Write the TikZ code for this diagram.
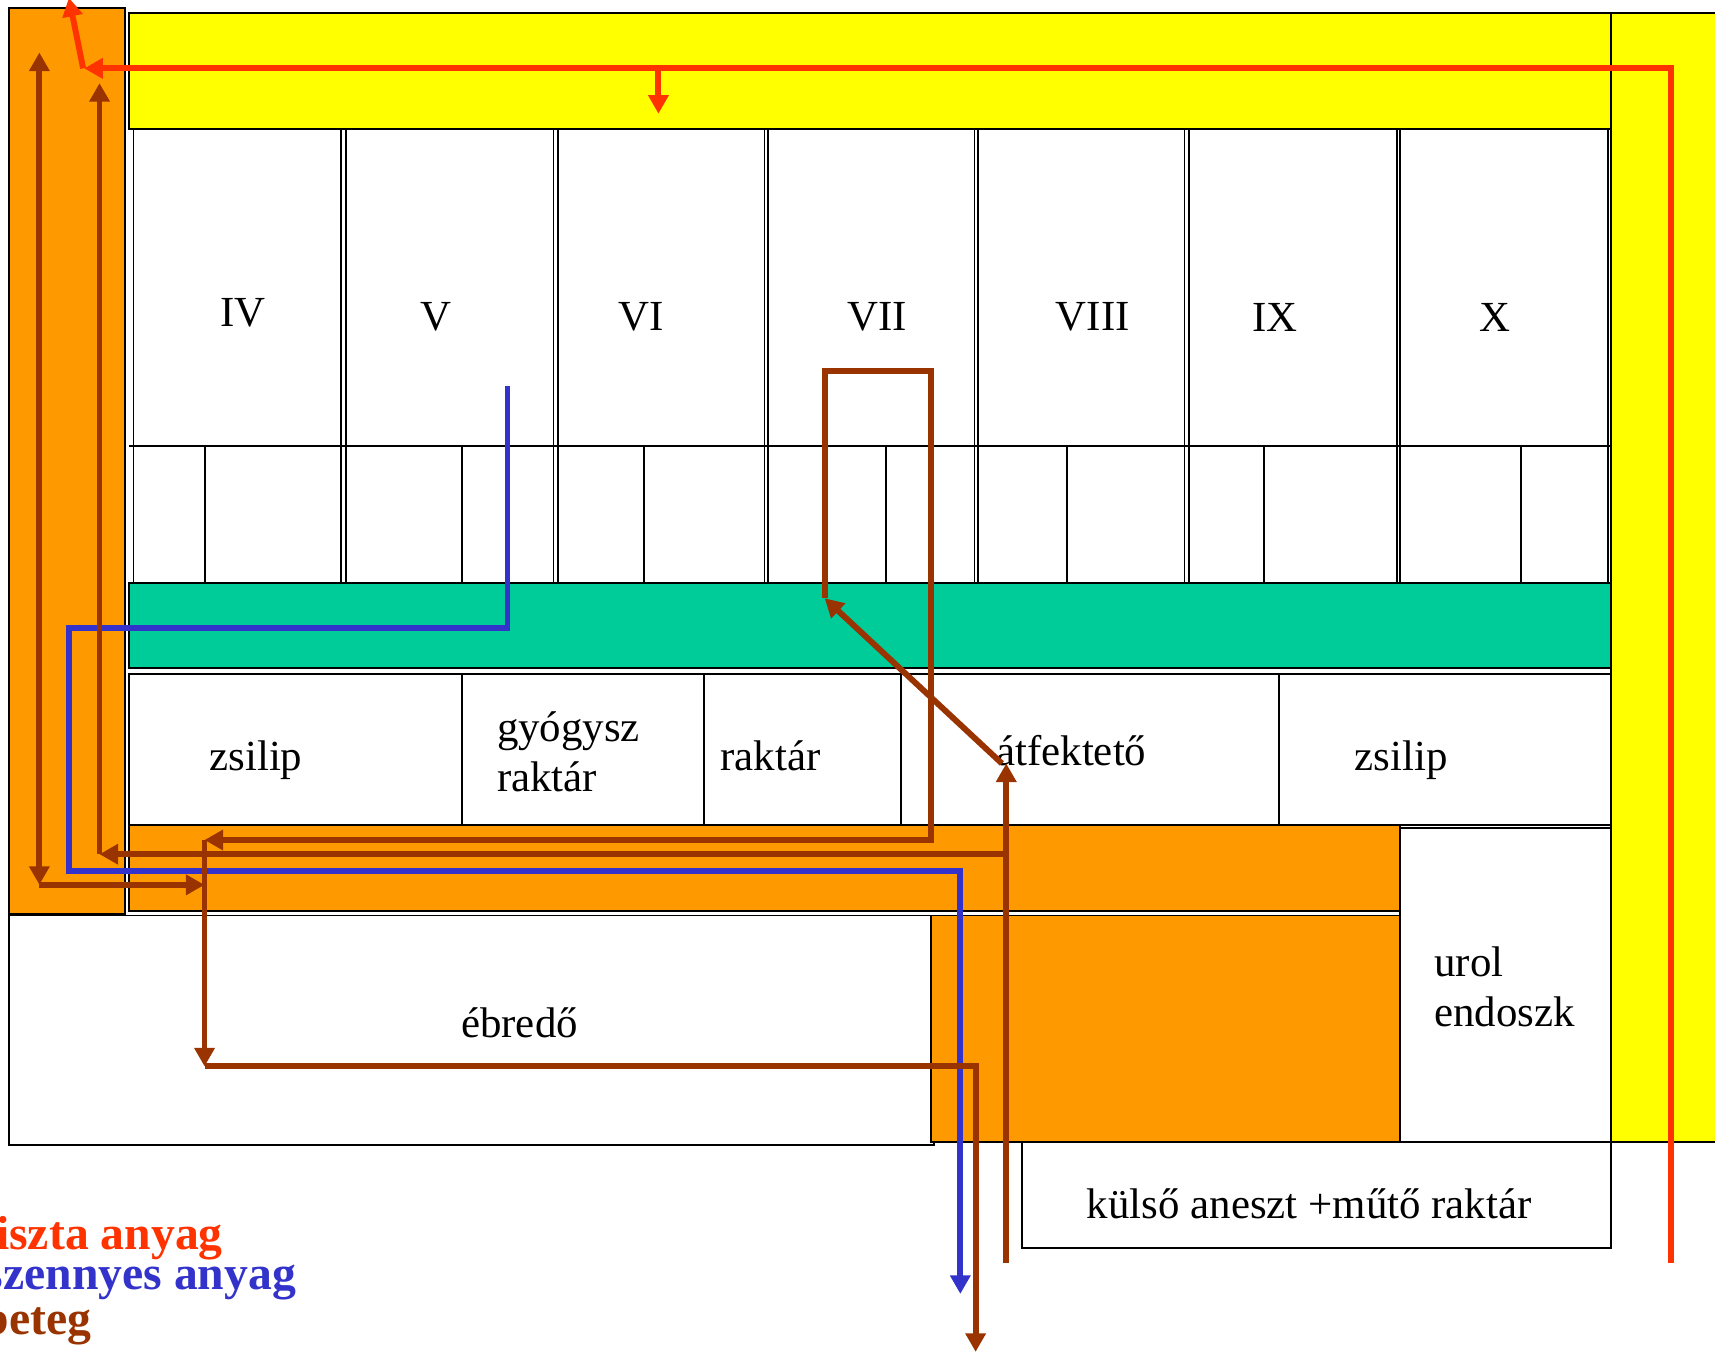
\documentclass[tikz,border=0pt]{standalone}
\usepackage{fontspec}
\setmainfont{Liberation Serif}
\usetikzlibrary{fit,arrows.meta}
\definecolor{ora}{HTML}{FF9900}
\definecolor{yel}{HTML}{FFFF00}
\definecolor{grn}{HTML}{00CC99}
\definecolor{redl}{HTML}{FF3300}
\definecolor{blul}{HTML}{3333CC}
\definecolor{brol}{HTML}{993300}
\tikzset{
  room/.style={draw=black,line width=0.85pt,inner sep=0pt,outer sep=0pt},
  wallline/.style={draw=black,line width=0.85pt},
  txt/.style={font=\fontsize{19.6}{23}\selectfont,inner sep=0pt,text=black},
  legend/.style={font=\fontsize{21.8}{24}\selectfont\bfseries,inner sep=0pt,anchor=base east},
  flow/.style={line width=2.7pt,line join=miter,-{Triangle[length=8.5pt,width=9pt]}},
  both/.style={line width=2.7pt,{Triangle[length=8.5pt,width=9pt]}-{Triangle[length=8.5pt,width=9pt]}},
}
\begin{document}
\begin{tikzpicture}[x=0.5pt,y=-0.5pt]
\useasboundingbox (0,0) rectangle (1568,1236);
% rooms
\node[room,fill=yel,fit={(1473,12)(1580,1044)}] (yelright) {};
\node[room,fill=yel,fit={(118,12)(1473,118)}] (yeltop) {};
\node[room,fill=ora,fit={(8,7)(114,836)}] (oraleft) {};
\node[room,fit={(122,118)(312,533)}] (rIV) {};
\node[room,fit={(316,118)(506,533)}] (rV) {};
\node[room,fit={(510,118)(699,533)}] (rVI) {};
\node[room,fit={(702,118)(891,533)}] (rVII) {};
\node[room,fit={(894,118)(1083,533)}] (rVIII) {};
\node[room,fit={(1087,118)(1277,533)}] (rIX) {};
\node[room,fit={(1280,118)(1470,533)}] (rX) {};
\coordinate (hA) at (118,408); \coordinate (hB) at (1473,408);
\draw[wallline] (hA) -- (hB);
\foreach \n/\xx in {a/187.5,b/422.5,c/588.5,d/810,e/975.5,f/1155.5,g/1390.5}{
  \coordinate (t\n) at (\xx,408); \coordinate (u\n) at (\xx,533);
  \draw[wallline] (t\n) -- (u\n);
}
\node[room,fill=grn,fit={(118,533)(1473,611)}] (green) {};
\node[room,fit={(118,616)(422.5,754)}] (zs1) {};
\node[room,fit={(422.5,616)(643.5,754)}] (gy) {};
\node[room,fit={(643.5,616)(824,754)}] (ra) {};
\node[room,fit={(824,616)(1169,754)}] (at) {};
\node[room,fit={(1169,616)(1473,754)}] (zs2) {};
\node[room,fill=ora,fit={(118,754)(1280,833)}] (oramid) {};
\node[room,fit={(8,837)(854,1047)}] (eb) {};
\node[room,fill=ora,fit={(851,837)(1280,1044)}] (oralow) {};
\node[room,fit={(1280,757)(1473,1044)}] (ur) {};
\node[room,fit={(934,1044)(1473,1141)}] (ku) {};
% labels
\node[txt] (lIV) at (222,286) {IV};
\node[txt] (lV) at (399,290) {V};
\node[txt] (lVI) at (586,290) {VI};
\node[txt] (lVII) at (802,290) {VII};
\node[txt] (lVIII) at (999,290) {VIII};
\node[txt] (lIX) at (1166,290) {IX};
\node[txt] (lX) at (1367,290) {X};
\node[txt] (lzs1) at (234,695) {zsilip};
\node[txt,align=left,anchor=west] (lgy) at (454,687.5) {gyógysz\\raktár};
\node[txt] (lra) at (704.5,691) {raktár};
\node[txt] (lat) at (979.5,686) {átfektető};
\node[txt] (lzs2) at (1281,695) {zsilip};
\node[txt,align=left,anchor=west] (lur) at (1311,902.5) {urol\\endoszk};
\node[txt] (leb) at (475,935) {ébredő};
\node[txt] (lku) at (1197,1101) {külső aneszt +műtő raktár};
\node[legend,text=redl] (legA) at (204,1142) {tiszta anyag};
\node[legend,text=blul] (legB) at (271,1179) {szennyes anyag};
\node[legend,text=brol] (legC) at (84,1220) {beteg};
% waypoints
\coordinate (b1) at (464,353); \coordinate (b2) at (464,574); \coordinate (b3) at (63,574);
\coordinate (b4) at (63,796); \coordinate (b5) at (878,796); \coordinate (b6) at (878,1183);
\coordinate (p1) at (36,48); \coordinate (p2) at (36,809); \coordinate (p3) at (187,809);
\coordinate (p4) at (920,1155); \coordinate (p5) at (920,698); \coordinate (p6) at (920,781);
\coordinate (p7) at (91,781); \coordinate (p8) at (91,76);
\coordinate (p9) at (916,698); \coordinate (p10) at (754,547); \coordinate (p11) at (754,339);
\coordinate (p12) at (851,339); \coordinate (p13) at (851,768); \coordinate (p14) at (187,768);
\coordinate (p15) at (187,975); \coordinate (p16) at (892,975); \coordinate (p17) at (892,1236);
\coordinate (c1) at (1528,1155); \coordinate (c2) at (1528,62.5); \coordinate (c3) at (77,62.5);
\coordinate (c4) at (76,62.5); \coordinate (c5) at (63,-2); \coordinate (c6) at (602,62.5); \coordinate (c7) at (602,104);
% connectors
\draw[flow,blul] (b1) -- (b2) -- (b3) -- (b4) -- (b5) -- (b6);
\draw[both,brol] (p1) -- (p2);
\draw[flow,brol] (p2) -- (p3);
\draw[flow,brol] (p4) -- (p5);
\draw[flow,brol] (p6) -- (p7);
\draw[flow,brol] (p7) -- (p8);
\draw[flow,brol] (p9) -- (p10);
\draw[flow,brol] (p10) -- (p11) -- (p12) -- (p13) -- (p14);
\draw[flow,brol] (p14) -- (p15);
\draw[flow,brol] (p15) -- (p16) -- (p17);
\draw[flow,redl] (c1) -- (c2) -- (c3);
\draw[flow,redl] (c4) -- (c5);
\draw[flow,redl] (c6) -- (c7);
\end{tikzpicture}
\end{document}
